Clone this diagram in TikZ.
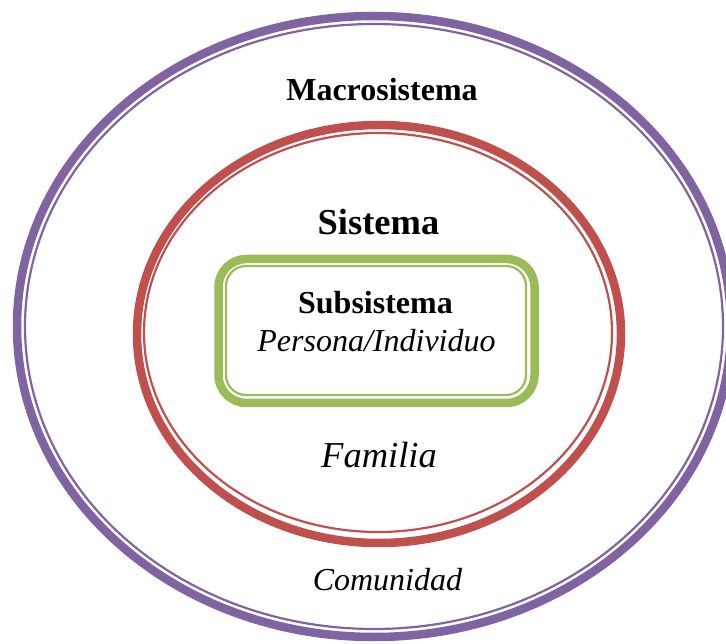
\documentclass[tikz,border=0pt]{standalone}
\usepackage{fontspec}
\setmainfont{Liberation Serif}
\usepackage{tikz}
\usetikzlibrary{positioning}

\definecolor{macrocolor}{HTML}{8064A2}
\definecolor{sistcolor}{HTML}{C0504D}
\definecolor{subcolor}{HTML}{9BBB59}

\begin{document}
\begin{tikzpicture}[x=1pt, y=-1pt,
    thickline/.style={line width=8.5pt},
    thinline/.style={line width=2.2pt},
    bigtext/.style={font=\fontsize{36.5}{40}\selectfont, anchor=base},
    normtext/.style={font=\fontsize{32}{36}\selectfont, anchor=base}]

    \useasboundingbox (0,0) rectangle (726,644);

    % Macrosistema
    \draw[macrocolor, thickline] (374,326.5) ellipse [x radius=357pt, y radius=310.5pt];
    \draw[macrocolor, thinline] (374,326.5) ellipse [x radius=349pt, y radius=302.5pt];

    % Sistema
    \draw[sistcolor, thickline] (379,334) ellipse [x radius=242pt, y radius=209pt];
    \draw[sistcolor, thinline] (378,332.5) ellipse [x radius=234pt, y radius=199.5pt];

    % Subsistema
    \draw[subcolor, thickline, rounded corners=28pt] (218.5,259) rectangle (534.5,403);
    \draw[subcolor, thinline, rounded corners=20pt] (226,266) rectangle (526,395);

    \node[normtext] (macro) at (382,101) {\textbf{Macrosistema}};
    \node[bigtext] (sist) at (378.5,235) {\textbf{Sistema}};
    \node[normtext] (sub) at (375.5,314) {\textbf{Subsistema}};
    \node[normtext] (persona) at (376.5,352) {\textit{Persona/Individuo}};
    \node[bigtext] (familia) at (379,467) {\textit{Familia}};
    \node[normtext] (comunidad) at (387.5,590) {\textit{Comunidad}};

\end{tikzpicture}
\end{document}
